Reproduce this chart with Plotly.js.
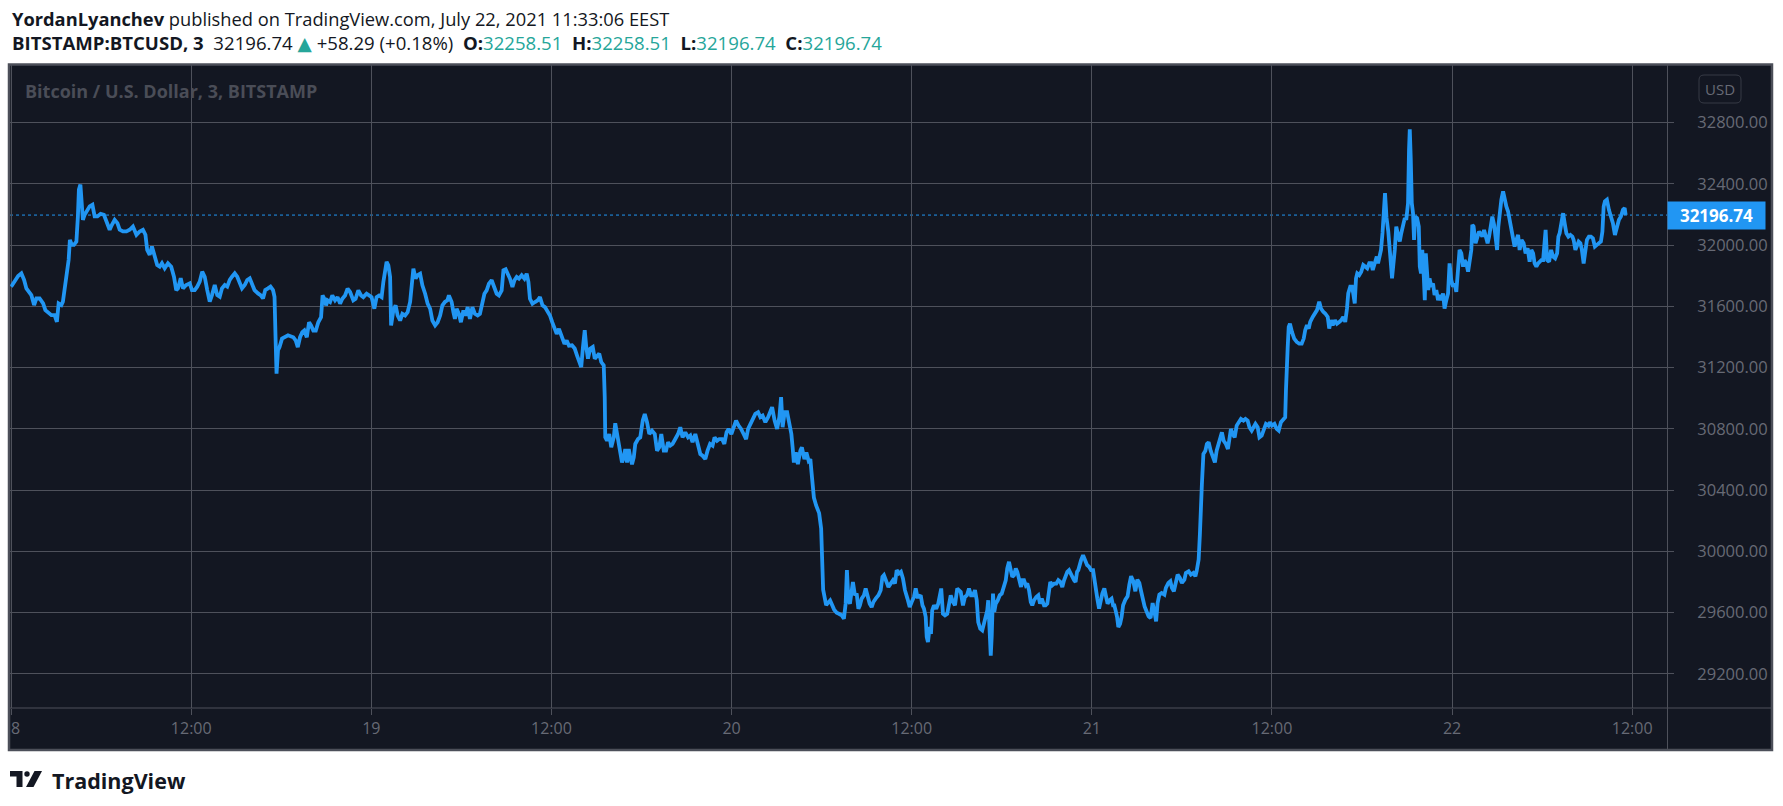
<!DOCTYPE html>
<html>
<head>
<meta charset="utf-8">
<script src="https://cdn.plot.ly/plotly-3.0.1.min.js"></script>
<style>html,body{margin:0;padding:0;background:#ffffff;overflow:hidden}</style>
</head>
<body>
<div id="chart" style="width:1783px;height:806px"></div>
<script>
// ---------------- DATA (BITSTAMP:BTCUSD, 3-minute chart) ----------------
const t18 = ['00:00','00:14','00:28','00:41','00:52','01:01','01:10','01:21','01:32','01:41','01:54','02:08','02:17','02:27','02:41','02:54','03:03','03:10','03:21','03:27','03:37','03:45','03:50','03:55','04:03','04:11','04:21','04:27','04:31','04:37','04:41','04:47','04:54','05:03','05:14','05:25','05:34','05:45','05:58','06:11','06:25','06:34','06:43','06:54','07:05','07:14','07:27','07:41','07:54','08:07','08:21','08:34','08:47','08:57','09:04','09:14','09:23','09:34','09:44','09:54','10:03','10:14','10:27','10:40','10:51','11:00','11:07','11:18','11:27','11:40','11:54','12:03','12:14','12:24','12:34','12:44','12:54','13:04','13:14','13:23','13:34','13:44','13:54','14:03','14:14','14:24','14:34','14:43','14:54','15:04','15:14','15:23','15:34','15:44','15:54','16:03','16:13','16:27','16:37','16:47','16:56','17:07','17:17','17:27','17:33','17:37','17:41','17:47','17:53','18:03','18:13','18:27','18:48','18:58','19:06','19:15','19:24','19:32','19:42','19:51','19:59','20:08','20:18','20:28','20:39','20:45','20:52','20:59','21:05','21:15','21:24','21:35','21:45','21:55','22:04','22:15','22:25','22:35','22:48','22:57','23:08','23:19','23:28','23:41','23:51'];
const p18 = [31729,31762,31799,31816,31773,31718,31696,31674,31609,31652,31652,31620,31576,31565,31543,31543,31499,31620,31609,31631,31740,31838,31904,32035,32002,32002,32024,32188,32363,32396,32254,32166,32199,32221,32254,32264,32188,32188,32205,32199,32144,32101,32133,32166,32144,32101,32090,32090,32101,32122,32068,32090,32101,32068,31969,31937,31991,31937,31871,31860,31882,31849,31882,31860,31794,31707,31718,31784,31718,31740,31751,31707,31707,31729,31762,31827,31794,31707,31631,31674,31740,31674,31663,31718,31740,31729,31773,31794,31816,31794,31751,31718,31740,31773,31784,31740,31707,31685,31674,31652,31707,31718,31729,31707,31663,31401,31161,31314,31335,31390,31401,31412,31399,31377,31334,31399,31432,31443,31399,31497,31476,31443,31443,31497,31530,31672,31650,31607,31640,31629,31672,31640,31661,31618,31650,31672,31716,31694,31640,31650,31705,31672,31661,31683,31672];

const t19 = ['00:01','00:12','00:21','00:31','00:41','00:48','00:55','01:01','01:08','01:15','01:19','01:28','01:37','01:45','01:55','02:04','02:15','02:25','02:35','02:41','02:48','02:57','03:05','03:15','03:24','03:35','03:45','03:55','04:04','04:15','04:25','04:35','04:44','04:54','05:04','05:10','05:21','05:28','05:34','05:41','05:50','05:58','06:08','06:17','06:25','06:34','06:44','06:54','07:05','07:14','07:24','07:32','07:41','07:50','08:01','08:12','08:21','08:30','08:41','08:48','08:57','09:05','09:14','09:24','09:32','09:41','09:50','10:01','10:12','10:21','10:28','10:34','10:44','10:54','11:05','11:14','11:24','11:34','11:45','11:54','12:03','12:11','12:21','12:30','12:41','12:52','13:01','13:10','13:22','13:33','13:42','13:51','13:59','14:06','14:13','14:19','14:26','14:35','14:45','14:53','15:02','15:11','15:19','15:29','15:33','15:35','15:42','15:51','15:59','16:09','16:15','16:22','16:29','16:35','16:42','16:49','16:55','17:02','17:09','17:15','17:22','17:29','17:35','17:46','17:55','18:05','18:13','18:22','18:31','18:42','18:53','19:02','19:11','19:19','19:29','19:38','19:46','19:55','20:04','20:15','20:26','20:35','20:44','20:55','21:06','21:15','21:24','21:35','21:46','21:55','22:04','22:15','22:24','22:34','22:44','22:52','23:02','23:11','23:22','23:31','23:40','23:48','23:59'];
const p19 = [31661,31585,31661,31672,31661,31760,31825,31891,31869,31793,31476,31574,31607,31541,31508,31552,31541,31563,31629,31716,31847,31782,31804,31814,31738,31683,31618,31585,31508,31476,31497,31541,31607,31629,31640,31672,31629,31563,31519,31585,31552,31497,31574,31541,31596,31519,31596,31552,31541,31552,31618,31683,31705,31749,31771,31727,31683,31672,31705,31836,31843,31814,31782,31727,31771,31793,31782,31804,31782,31814,31760,31650,31618,31629,31640,31661,31607,31596,31563,31541,31497,31454,31421,31454,31410,31355,31377,31344,31346,31325,31281,31237,31204,31336,31445,31336,31259,31325,31336,31259,31281,31292,31237,31215,31008,30745,30723,30767,30680,30745,30837,30767,30702,30647,30581,30614,30669,30581,30669,30614,30570,30614,30702,30734,30745,30855,30898,30844,30767,30789,30767,30658,30680,30767,30658,30658,30713,30691,30702,30734,30767,30811,30745,30778,30745,30757,30713,30767,30702,30636,30625,30603,30658,30702,30691,30745,30723,30734,30734,30702,30778,30800,30767];

const t20 = ['00:08','00:18','00:28','00:38','00:48','00:58','01:06','01:15','01:24','01:35','01:46','01:55','02:04','02:15','02:26','02:35','02:42','02:52','03:02','03:11','03:18','03:24','03:32','03:42','03:51','03:59','04:04','04:09','04:17','04:25','04:35','04:41','04:51','04:59','05:08','05:15','05:19','05:24','05:29','05:38','05:50','05:58','06:06','06:18','06:34','06:50','07:00','07:09','07:20','07:29','07:36','07:41','07:47','07:53','08:00','08:05','08:13','08:20','08:27','08:33','08:40','08:49','08:56','09:03','09:12','09:20','09:27','09:36','09:47','09:56','10:03','10:09','10:19','10:27','10:36','10:45','10:53','11:00','11:09','11:17','11:25','11:33','11:43','11:52','12:00','12:09','12:16','12:23','12:29','12:36','12:43','12:49','12:56','13:00','13:05','13:12','13:17','13:22','13:29','13:38','13:46','13:53','13:58','14:05','14:13','14:22','14:29','14:36','14:45','14:53','15:02','15:09','15:16','15:25','15:33','15:41','15:49','15:57','16:05','16:13','16:20','16:26','16:34','16:42','16:50','16:56','17:02','17:06','17:12','17:16','17:20','17:25','17:30','17:36','17:44','17:52','18:00','18:08','18:16','18:22','18:29','18:36','18:42','18:49','18:56','19:02','19:09','19:17','19:22','19:29','19:36','19:42','19:49','19:56','20:02','20:09','20:18','20:26','20:33','20:40','20:49','20:55','21:02','21:09','21:14','21:22','21:30','21:38','21:46','21:54','22:02','22:09','22:15','22:22','22:29','22:37','22:42','22:49','22:55','23:01','23:06','23:11','23:17','23:25','23:33','23:41','23:49','23:57'];
const p20 = [30811,30855,30822,30800,30767,30734,30800,30833,30855,30898,30909,30877,30887,30844,30877,30909,30942,30855,30800,30877,31008,30811,30909,30909,30844,30767,30680,30581,30647,30570,30658,30680,30603,30647,30592,30603,30527,30417,30352,30300,30250,30150,29750,29650,29680,29620,29600,29593,29583,29561,29659,29878,29681,29659,29747,29801,29714,29725,29626,29648,29692,29714,29758,29703,29659,29637,29670,29692,29714,29747,29834,29845,29801,29768,29790,29812,29790,29878,29856,29867,29823,29747,29692,29637,29670,29703,29758,29703,29703,29714,29648,29626,29572,29441,29408,29506,29462,29615,29648,29626,29659,29714,29758,29593,29583,29593,29670,29714,29670,29648,29758,29747,29736,29648,29703,29714,29758,29714,29714,29747,29681,29539,29495,29484,29539,29572,29615,29681,29495,29320,29452,29725,29605,29659,29681,29714,29725,29768,29812,29889,29932,29878,29834,29845,29889,29867,29812,29768,29812,29812,29779,29790,29747,29670,29648,29681,29703,29714,29659,29692,29648,29648,29659,29725,29801,29779,29790,29790,29812,29801,29768,29812,29845,29867,29878,29845,29834,29812,29801,29867,29878,29911,29943,29976,29943,29911,29900,29878];

const t21 = ['00:05','00:10','00:15','00:22','00:29','00:35','00:42','00:50','00:55','01:03','01:11','01:19','01:25','01:30','01:35','01:41','01:46','01:53','01:59','02:05','02:14','02:23','02:30','02:37','02:46','02:54','03:02','03:10','03:17','03:23','03:31','03:39','03:47','03:55','04:03','04:10','04:17','04:23','04:30','04:39','04:50','04:56','05:06','05:14','05:20','05:28','05:36','05:43','05:52','06:00','06:10','06:16','06:27','06:36','06:46','06:54','06:59','07:07','07:12','07:16','07:20','07:26','07:34','07:40','07:47','07:55','08:03','08:12','08:19','08:27','08:35','08:40','08:47','08:56','09:04','09:10','09:16','09:23','09:31','09:39','09:47','09:56','10:06','10:14','10:23','10:30','10:39','10:46','10:54','11:03','11:10','11:19','11:27','11:36','11:46','11:52','12:00','12:10','12:19','12:27','12:36','12:45','12:53','12:56','12:59','13:03','13:07','13:12','13:20','13:29','13:39','13:49','13:59','14:07','14:13','14:20','14:27','14:33','14:43','14:52','15:00','15:09','15:16','15:25','15:33','15:43','15:49','15:56','16:03','16:12','16:20','16:29','16:37','16:45','16:53','17:00','17:05','17:13','17:20','17:25','17:31','17:36','17:41','17:49','17:57','18:05','18:13','18:21','18:29','18:37','18:43','18:51','18:59','19:04','19:09','19:16','19:22','19:27','19:32','19:38','19:45','19:52','20:00','20:11','20:17','20:24','20:31','20:37','20:44','20:51','20:57','21:04','21:08','21:11','21:15','21:19','21:24','21:28','21:33','21:40','21:47','21:51','21:56','22:01','22:07','22:11','22:15','22:20','22:25','22:30','22:37','22:44','22:50','22:57','23:04','23:10','23:17','23:24','23:30','23:37','23:44','23:50','23:57'];
const p21 = [29878,29812,29747,29692,29626,29681,29725,29758,29714,29659,29681,29692,29648,29648,29615,29572,29506,29528,29572,29648,29685,29707,29783,29838,29805,29740,29816,29794,29740,29696,29641,29608,29576,29565,29663,29608,29543,29663,29718,29729,29718,29762,29794,29805,29762,29740,29805,29849,29827,29794,29816,29860,29871,29849,29860,29838,29871,29947,30111,30395,30439,30636,30658,30702,30713,30658,30625,30581,30658,30702,30734,30778,30723,30702,30669,30745,30800,30767,30745,30822,30844,30865,30854,30865,30854,30811,30789,30811,30833,30811,30745,30756,30800,30833,30822,30844,30822,30833,30800,30789,30844,30865,30876,31051,31313,31335,31467,31488,31434,31390,31368,31357,31357,31390,31445,31478,31456,31499,31532,31554,31576,31631,31587,31565,31554,31532,31456,31510,31478,31510,31488,31499,31510,31532,31499,31587,31685,31729,31729,31685,31620,31783,31816,31805,31827,31871,31860,31849,31882,31882,31838,31893,31926,31882,31926,31969,32080,32200,32340,32180,32090,31950,31783,31969,32122,32067,32024,32078,32133,32177,32166,32275,32625,32756,32559,32275,32209,32034,32187,32177,32122,31860,31816,31969,31794,31641,31947,31838,31707,31783,31728,31750,31674,31707,31641,31674,31641,31685,31586,31641,31685,31881,31772];

const t22 = ['00:04','00:10','00:17','00:24','00:30','00:37','00:44','00:50','00:57','01:04','01:10','01:17','01:21','01:26','01:34','01:41','01:48','01:53','02:01','02:08','02:14','02:22','02:28','02:34','02:41','02:48','02:54','03:00','03:05','03:10','03:17','03:24','03:30','03:37','03:44','03:50','03:57','04:04','04:10','04:17','04:24','04:30','04:38','04:46','04:54','05:02','05:10','05:17','05:24','05:30','05:37','05:44','05:50','05:57','06:04','06:10','06:14','06:20','06:28','06:36','06:44','06:52','07:00','07:05','07:10','07:17','07:24','07:30','07:37','07:45','07:53','08:01','08:06','08:13','08:19','08:26','08:33','08:39','08:46','08:53','08:59','09:07','09:15','09:23','09:31','09:39','09:47','09:55','10:01','10:06','10:11','10:19','10:27','10:35','10:43','10:51','10:59','11:07','11:15','11:23','11:30','11:34'];
const p22 = [31728,31750,31696,31860,31969,31947,31860,31903,31881,31827,31881,31969,32133,32122,32013,32056,32089,32078,32056,32100,32067,32013,32056,32133,32187,32133,32034,31969,32122,32209,32297,32351,32297,32253,32220,32166,32100,32024,31991,32034,32067,31969,32034,32013,31947,31980,31892,31969,31947,31881,31860,31881,31892,31903,31903,32034,32100,31903,31892,31969,31925,31914,31947,32056,32078,32144,32209,32144,32078,32056,32067,32056,32034,31969,31991,32024,32013,31969,31881,31947,32034,32056,32056,32045,31991,32002,32013,32024,32089,32253,32286,32297,32231,32187,32144,32067,32111,32166,32187,32231,32242,32196.74];

const dayDates = ['2021-07-18','2021-07-19','2021-07-20','2021-07-21','2021-07-22'];
const dayTimes = [t18, t19, t20, t21, t22];
const dayPrices = [p18, p19, p20, p21, p22];

const xTickVals = ['2021-07-18 00:00','2021-07-18 12:00','2021-07-19 00:00','2021-07-19 12:00','2021-07-20 00:00','2021-07-20 12:00','2021-07-21 00:00','2021-07-21 12:00','2021-07-22 00:00','2021-07-22 12:00'];
const xTickText = ['18','12:00','19','12:00','20','12:00','21','12:00','22','12:00'];
const yTickVals = [29200,29600,30000,30400,30800,31200,31600,32000,32400,32800];

const symbolName = 'BITSTAMP:BTCUSD, 3';
const watermarkText = 'Bitcoin / U.S. Dollar, 3, BITSTAMP';
const publisherLine = ['YordanLyanchev', ' published on TradingView.com, July 22, 2021 11:33:06 EEST'];
const lastPrice = [32196.74];
const priceChange = ['+58.29', '(+0.18%)'];
const quoteLabels = ['O:', 'H:', 'L:', 'C:'];
const quoteValues = ['32258.51', '32258.51', '32196.74', '32196.74'];
const currencyLabel = 'USD';
const brandName = 'TradingView';

// ---------------- BUILD ----------------
const xs = [], ys = [];
dayTimes.forEach((arr, d) => arr.forEach((tm, i) => { xs.push(dayDates[d] + ' ' + tm); ys.push(dayPrices[d][i]); }));

// plot area in page pixels
const PA = {l: 10, r: 1667, t: 65, b: 708};
const W = 1783, H = 806;
const fx = px => (px - PA.l) / (PA.r - PA.l);
const fy = py => (PA.b - py) / (PA.b - PA.t);

const BG = '#131722', GRID = '#4e515b', TXT = '#676a75', TEAL = '#26a69a', BLUE = '#2196f3', FRAME = '#4c4f59';
const FONT = 'Open Sans, Noto Sans, DejaVu Sans, sans-serif';

const teal = s => `<span style="color:${TEAL}">${s}</span>`;
const sp = '&nbsp;';
let line2 = `<b>${symbolName}</b>${sp}${sp}${lastPrice[0].toFixed(2)}${sp}${teal('▲')}${sp}${priceChange[0]} ${priceChange[1]}`;
quoteLabels.forEach((l, i) => { line2 += `${sp}${sp}<b>${l}</b>${teal(quoteValues[i])}`; });

const trace = {
  type: 'scatter', mode: 'lines', x: xs, y: ys,
  line: {color: BLUE, width: 3.8}, hoverinfo: 'skip', showlegend: false
};

const P = (x, y) => `${fx(x)},${fy(y)}`;

// rounded rectangle path (paper coords) for the currency box
const rr = (x0, y0, x1, y1, r) =>
  `M${P(x0 + r, y0)} L${P(x1 - r, y0)} Q${P(x1, y0)} ${P(x1, y0 + r)} L${P(x1, y1 - r)} Q${P(x1, y1)} ${P(x1 - r, y1)} ` +
  `L${P(x0 + r, y1)} Q${P(x0, y1)} ${P(x0, y1 - r)} L${P(x0, y0 + r)} Q${P(x0, y0)} ${P(x0 + r, y0)} Z`;

const layout = {
  width: W, height: H,
  margin: {l: PA.l, r: W - PA.r, t: PA.t, b: H - PA.b, pad: 0},
  paper_bgcolor: '#ffffff', plot_bgcolor: BG,
  showlegend: false,
  xaxis: {
    type: 'date', range: ['2021-07-17 23:55:36', '2021-07-22 14:19:12'],
    tickmode: 'array', tickvals: xTickVals, ticktext: xTickText,
    showgrid: true, gridcolor: GRID, gridwidth: 1, zeroline: false, showline: false,
    ticks: 'outside', ticklen: 6, tickcolor: GRID, tickwidth: 1,
    ticklabelstandoff: 0,
    tickfont: {family: FONT, size: 16, color: TXT}, fixedrange: true
  },
  yaxis: {
    side: 'right', range: [28977.6, 33176.8],
    tickmode: 'array', tickvals: yTickVals, tickformat: '.2f',
    showgrid: true, gridcolor: GRID, gridwidth: 1, zeroline: false, showline: false,
    ticks: 'outside', ticklen: 6, tickcolor: GRID, tickwidth: 1,
    ticklabelstandoff: 20,
    tickfont: {family: FONT, size: 16.5, color: TXT}, fixedrange: true
  },
  shapes: [
    {type: 'rect', xref: 'paper', yref: 'paper', x0: fx(9), x1: fx(1772), y0: fy(750), y1: fy(65),
     fillcolor: BG, line: {width: 0}, layer: 'below'},
    {type: 'line', xref: 'paper', yref: 'y', x0: 0, x1: 1, y0: lastPrice[0], y1: lastPrice[0],
     line: {color: BLUE, width: 1, dash: 'dot'}, layer: 'below'},
    {type: 'line', xref: 'paper', yref: 'paper', x0: fx(1667.5), x1: fx(1667.5), y0: fy(750), y1: fy(65),
     line: {color: GRID, width: 1}, layer: 'above'},
    {type: 'line', xref: 'paper', yref: 'paper', x0: fx(9), x1: fx(1772), y0: fy(708), y1: fy(708),
     line: {color: GRID, width: 1}, layer: 'above'},
    {type: 'path', xref: 'paper', yref: 'paper', layer: 'above', fillcolor: 'rgba(0,0,0,0)',
     line: {color: '#363a45', width: 1}, path: rr(1699, 75, 1741, 103, 5)},
    {type: 'rect', xref: 'paper', yref: 'paper', x0: fx(0), x1: fx(8), y0: fy(806), y1: fy(0),
     fillcolor: '#ffffff', line: {width: 0}, layer: 'above'},
    {type: 'rect', xref: 'paper', yref: 'paper', x0: fx(9), x1: fx(1772), y0: fy(750), y1: fy(64.5),
     fillcolor: 'rgba(0,0,0,0)', line: {color: FRAME, width: 2.5}, layer: 'above'},
    {type: 'path', xref: 'paper', yref: 'paper', layer: 'above', fillcolor: '#131722', line: {width: 0},
     path: `M${P(10,771)} L${P(22.5,771)} L${P(22.5,787)} L${P(16.5,787)} L${P(16.5,776.5)} L${P(10,776.5)} Z`},
    {type: 'circle', xref: 'paper', yref: 'paper', layer: 'above', fillcolor: '#131722', line: {width: 0},
     x0: fx(24.3), x1: fx(29.7), y0: fy(776.7), y1: fy(771.3)},
    {type: 'path', xref: 'paper', yref: 'paper', layer: 'above', fillcolor: '#131722', line: {width: 0},
     path: `M${P(34.5,771)} L${P(42,771)} L${P(33.5,787)} L${P(26,787)} Z`}
  ],
  annotations: [
    {xref: 'paper', yref: 'paper', x: fx(10), y: fy(18), xanchor: 'left', yanchor: 'middle', showarrow: false,
     text: `<b>${publisherLine[0]}</b>${publisherLine[1]}`, font: {family: FONT, size: 18.3, color: '#131722'}},
    {xref: 'paper', yref: 'paper', x: fx(10), y: fy(43), xanchor: 'left', yanchor: 'middle', showarrow: false,
     text: line2, font: {family: FONT, size: 18.6, color: '#131722'}},
    {xref: 'paper', yref: 'paper', x: fx(23), y: fy(91), xanchor: 'left', yanchor: 'middle', showarrow: false,
     text: watermarkText, font: {family: FONT, size: 18, color: '#4a4d57', weight: 700}},
    {xref: 'paper', yref: 'paper', x: fx(1720), y: fy(89), xanchor: 'center', yanchor: 'middle', showarrow: false,
     text: currencyLabel, font: {family: FONT, size: 15, color: TXT}},
    {xref: 'paper', yref: 'y', x: fx(1667.3), y: lastPrice[0], xanchor: 'left', yanchor: 'middle', showarrow: false,
     text: lastPrice[0].toFixed(2), font: {family: FONT, size: 17, color: '#ffffff', weight: 700},
     bgcolor: BLUE, borderpad: 1, width: 95, height: 25},
    {xref: 'paper', yref: 'paper', x: fx(50), y: fy(780), xanchor: 'left', yanchor: 'middle', showarrow: false,
     text: `<b>${brandName}</b>`, font: {family: FONT, size: 21.5, color: '#131722'}}
  ]
};

Plotly.newPlot('chart', [trace], layout, {staticPlot: true, displayModeBar: false});
</script>
</body>
</html>
